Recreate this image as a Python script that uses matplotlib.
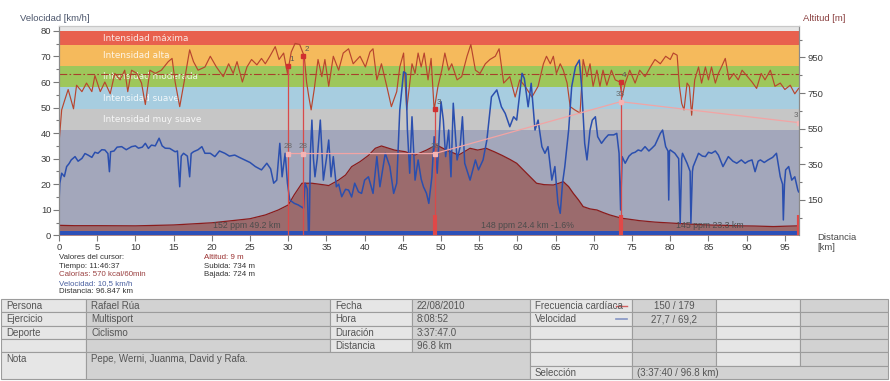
import matplotlib
matplotlib.use("Agg")
import matplotlib.pyplot as plt
import matplotlib.transforms as mtransforms
from matplotlib.patches import Rectangle
from matplotlib.ticker import MultipleLocator, FixedLocator

plt.rcParams['font.family'] = ['Liberation Sans', 'DejaVu Sans']

# ---- values ----
# altitude profile (km, m)
alt_km = [0, 2, 5, 10, 15, 19.1, 20, 23.5, 25, 27, 28.7, 30, 30.8, 31.8, 33.1, 34.5,
          35.3, 36.6, 37.5, 38.3, 39.4, 40.5, 41.4, 42.2, 43.9, 45.3, 46.6, 48.1, 49.4,
          50.7, 52.3, 53.8, 54.8, 55.9, 57.0, 58.0, 59.0, 59.9, 61.2, 62.5, 63.5, 64.7,
          65.5, 66.0, 66.7, 67.3, 68.0, 68.6, 69.5, 70.4, 71.2, 72.1, 73.6, 75.0, 76.0,
          78.0, 80.4, 82.5, 84.8, 87.0, 89.1, 91.0, 93.5, 95.0, 96.8]
alt_m = [8, 6, 6, 5, 10, 20, 22, 38, 45, 66, 94, 122, 180, 244, 244, 236,
         231, 262, 290, 337, 365, 400, 440, 453, 430, 421, 402, 430, 459,
         430, 402, 440, 430, 440, 420, 400, 378, 356, 300, 244, 236, 234,
         245, 253, 225, 188, 150, 113, 100, 94, 80, 66, 48, 40, 34,
         26, 20, 15, 10, 8, 5, 4, 1, 3, 5]

# speed (km, km/h)
speed_km = [0.0, 0.1, 0.35, 0.7, 1.0, 1.3, 1.6, 2.1, 2.5, 3.0, 3.4, 3.8, 4.3, 4.7, 5.1,
            5.6, 6.0, 6.4, 6.6, 6.75, 7.2, 7.6, 8.2, 8.8, 9.5, 10.0, 10.4, 10.9, 11.3,
            11.7, 12.1, 12.6, 13.1, 13.5, 13.9, 14.5, 15.2, 15.5, 15.8, 16.0, 16.3, 16.8,
            17.1, 17.3, 17.6, 18.2, 18.7, 19.1, 19.8, 20.4, 21.0, 21.7, 22.3, 23.0, 23.6,
            24.3, 25.0, 25.7, 26.5, 27.2, 27.7, 28.1, 28.5, 28.9, 29.2, 29.6, 29.9, 30.2,
            30.8, 31.3, 32.0, 32.2, 32.5, 32.65, 32.75, 32.9, 33.1, 33.3, 33.5, 33.8, 34.2,
            34.6, 35.0, 35.3, 35.6, 35.9, 36.3, 36.6, 37.0, 37.5, 37.9, 38.3, 38.7, 39.2,
            39.6, 40.0, 40.5, 41.1, 41.6, 42.0, 42.7, 43.3, 43.8, 44.2, 44.6, 45.1, 45.4,
            45.6, 45.9, 46.2, 46.6, 47.0, 47.4, 47.7, 48.1, 48.4, 48.8, 49.1, 49.5, 50.0,
            50.3, 50.6, 51.0, 51.3, 51.6, 52.1, 52.5, 52.8, 53.1, 53.8, 54.5, 54.9, 55.5,
            56.0, 56.6, 57.3, 57.9, 58.4, 59.0, 59.5, 59.9, 60.6, 60.9, 61.4, 61.8, 62.3,
            62.7, 63.2, 63.6, 64.0, 64.5, 64.9, 65.3, 65.6, 65.9, 66.2, 66.7, 67.1, 67.6,
            68.1, 68.4, 68.8, 69.1, 69.5, 69.8, 70.2, 70.5, 71.0, 71.5, 71.9, 72.6, 73.0,
            73.3, 73.5, 73.7, 74.1, 74.6, 75.0, 75.4, 75.8, 76.2, 76.7, 77.2, 77.6, 78.0,
            78.7, 79.0, 79.4, 79.7, 79.8, 79.9, 80.0, 80.6, 81.1, 81.3, 81.5, 81.6, 82.2,
            82.6, 82.7, 82.9, 83.0, 83.7, 84.2, 84.6, 85.0, 85.4, 85.9, 86.3, 86.9, 87.6,
            88.2, 88.7, 89.3, 89.8, 90.2, 90.7, 91.1, 91.5, 91.8, 92.3, 92.8, 93.4, 93.9,
            94.4, 94.7, 94.8, 94.95, 95.1, 95.5, 95.9, 96.3, 96.7, 96.8]
speed_kmh = [12.5, 20.3, 24.3, 23, 26.9, 28, 29.5, 30.8, 29, 30.1, 32, 31.4, 30.5, 32.5, 32.1,
             33.5, 33.4, 32, 24.9, 32.7, 33, 34.5, 34.7, 33.5, 34.7, 35, 34.1, 34.5, 36.0,
             34, 35.3, 35, 38.0, 35, 34.1, 34, 32.7, 33, 19.0, 31, 32.1, 31,
             22.9, 32, 32.7, 33.5, 34.7, 32.1, 32.1, 30.8, 33, 32.1, 31, 31.4, 30.5,
             29.5, 28.5, 26.9, 25.6, 28.2, 26, 20.4, 21.6, 36.0, 22.9, 32.1, 20.4, 13.8,
             12.5, 11.9, 10.6, 20.4, 18, 0.5, 1, 32.1, 45.1, 30, 22.9, 30, 45.1,
             21.6, 30, 37.3, 22.9, 30.8, 19.0, 20, 15.1, 18, 17.7, 15, 20.4, 17,
             16.4, 21.6, 22.9, 16.4, 30.8, 19.0, 32.1, 26.9, 16.4, 20.4, 49.0, 64.0, 63.4,
             41.2, 24.3, 46.4, 21.6, 29.5, 22, 19.0, 16.4, 12.5, 22.9, 38.6, 24.3, 52.3,
             45.1, 30.8, 41.2, 22.9, 51.7, 29.5, 34.7, 46.4, 28.2, 21.6, 29.5, 25.6, 29.5,
             37.3, 54.2, 56.9, 50.3, 47.7, 42.5, 46.4, 45.1, 63.4, 61.4, 50.3, 59.5, 41.2,
             45.1, 34.7, 32.1, 34.7, 21.6, 26.9, 12.5, 8.6, 20.4, 26.9, 41.2, 58.2, 66.0,
             68.6, 58.2, 36.0, 29.5, 41.2, 45.1, 46.4, 38.6, 36.0, 38, 39.3, 39.3, 39.9,
             32.1, 9.9, 30.8, 28.2, 31, 32.1, 32.5, 33.4, 33, 34.7, 33, 34.1, 35.3,
             39.9, 41.2, 34.7, 33, 13.8, 33, 33.4, 32.1, 30, 4.7, 30, 32.1, 28.2,
             25, 4.7, 25, 26.9, 32.1, 31, 30.8, 32.5, 32.1, 33, 31.4, 26.9, 30.8,
             29, 28.2, 29.5, 28.2, 29, 29.5, 24.9, 29, 29.5, 28.5, 29.5, 30.5, 32.1,
             22.9, 20, 6.0, 20, 25.6, 26.9, 21.6, 22.9, 17.7, 17]

# heart rate (km, bpm)
hr_km = [0.0, 0.35, 0.7, 1.2, 1.9, 2.3, 3.0, 3.6, 4.3, 4.7, 5.4, 6.0, 6.7, 7.3, 8.0, 8.6,
         9.0, 9.5, 10.2, 10.8, 11.3, 11.9, 12.6, 13.4, 14.3, 14.8, 15.2, 15.8, 16.5, 17.1,
         17.6, 18.2, 19.1, 19.8, 20.6, 21.5, 22.2, 22.8, 23.3, 24.0, 24.6, 25.2, 25.9,
         26.5, 27.0, 27.6, 28.3, 28.8, 29.4, 29.9, 30.4, 30.9, 31.5, 32.1, 32.4, 32.7,
         33.0, 33.4, 33.9, 34.4, 34.8, 35.3, 35.9, 36.6, 37.2, 37.9, 38.5, 39.4, 40.1,
         40.7, 41.1, 41.6, 42.2, 42.9, 43.5, 44.2, 44.6, 45.1, 45.5, 46.2, 46.6, 47.0,
         47.4, 47.8, 48.3, 48.7, 49.1, 49.6, 50.1, 50.5, 51.0, 51.4, 52.1, 52.7, 53.4,
         53.9, 54.5, 55.1, 55.8, 56.4, 57.1, 57.6, 58.2, 59.0, 59.7, 60.3, 61.0, 61.9,
         62.7, 63.4, 63.8, 64.3, 64.7, 65.1, 65.6, 66.0, 66.5, 66.9, 67.5, 68.2, 68.6,
         69.1, 69.5, 69.9, 70.4, 70.8, 71.2, 71.7, 72.3, 72.8, 73.4, 73.7, 74.1, 74.7,
         75.4, 76.0, 76.7, 77.4, 78.0, 78.7, 79.4, 80.0, 80.4, 80.9, 81.2, 81.5, 81.8,
         82.2, 82.5, 82.8, 83.2, 83.7, 84.1, 84.6, 85.0, 85.4, 85.9, 86.3, 86.7, 87.2,
         87.7, 88.3, 88.9, 89.4, 90.0, 90.7, 91.3, 91.9, 92.4, 93.1, 93.7, 94.4, 95.0,
         95.7, 96.3, 96.8]
hr_bpm = [86, 117, 125, 136, 118, 140, 134, 142, 134, 149, 134, 143, 132, 151, 145, 154,
          134, 154, 151, 142, 122, 154, 151, 154, 162, 165, 143, 120, 148, 173,
          162, 154, 157, 167, 157, 148, 160, 151, 162, 143, 157, 164, 159,
          165, 160, 167, 176, 164, 170, 151, 171, 179, 178, 167, 143, 129,
          117, 136, 164, 148, 164, 139, 167, 154, 170, 174, 160, 167, 157,
          171, 174, 145, 160, 139, 120, 134, 157, 170, 117, 160, 151, 170,
          157, 170, 145, 165, 117, 139, 154, 170, 154, 160, 145, 148, 167,
          178, 154, 151, 160, 164, 167, 174, 142, 148, 129, 145, 139, 129,
          139, 160, 167, 160, 167, 151, 160, 154, 142, 120, 117, 114, 164,
          148, 160, 139, 154, 139, 154, 140, 154, 145, 143, 129, 142, 154,
          142, 154, 148, 157, 164, 160, 167, 164, 170, 168, 139, 123, 117,
          142, 139, 112, 145, 157, 142, 157, 145, 157, 142, 151, 157, 165,
          145, 151, 145, 154, 149, 143, 137, 151, 145, 154, 139, 142, 136,
          140, 132, 137]

hr_avg = 150
zone_edges = [98.5, 118.2, 137.9, 157.6, 177.3, 190.7]
zone_names = ["Intensidad muy suave", "Intensidad suave", "Intensidad moderada",
              "Intensidad alta", "Intensidad máxima"]

# lap markers on the heart-rate curve
mark_km = [30.0, 31.9, 49.2, 73.5]
mark_hr = [158, 167, 118, 143]
mark_ids = ["1", "2", "3", "4"]

# pink lap line
pink_km = [30.0, 31.9, 49.2, 73.5, 96.8]
pink_val = [32, 32, 32, 52.3, 44.1]
pink_lbl = ["28", "28", "28", "33", "3"]

# lap summaries
split_km = [0, 49.2, 73.5, 96.8]
split_txt = ["152 ppm 49.2 km", "148 ppm 24.4 km -1.6%", "145 ppm 23.3 km"]
split_bar_km = [49.2, 73.5, 96.8]

total_km = 96.85
hr_scale = 0.4196      # bpm -> km/h axis units, as drawn in the original
alt_lim = (-48, 1127)

cursor_left = ["Valores del cursor:", "Tiempo: 11:46:37", "Calorías: 570 kcal/60min",
               "Velocidad: 10,5 km/h", "Distancia: 96.847 km"]
cursor_right = ["Altitud: 9 m", "Subida: 734 m", "Bajada: 724 m"]

table_rows = [
    ["Persona", "Rafael Rúa", "Fecha", "22/08/2010", "Frecuencia cardíaca", "150 / 179", "", ""],
    ["Ejercicio", "Multisport", "Hora", "8:08:52", "Velocidad", "27,7 / 69,2", "", ""],
    ["Deporte", "Ciclismo", "Duración", "3:37:47.0", "", "", "", ""],
    ["", "", "Distancia", "96.8 km", "", "", "", ""],
]
note_label = "Nota"
note_text = "Pepe, Werni, Juanma, David y Rafa."
sel_label = "Selección"
sel_text = "(3:37:40 / 96.8 km)"

# ---- figure ----
fig = plt.figure(figsize=(8.9, 3.81), dpi=100)
W, H = 890, 381

ui = fig.add_axes([0, 0, 1, 1], zorder=-1)
ui.set_xlim(0, W)
ui.set_ylim(H, 0)
ui.axis("off")

ax = fig.add_axes([59 / W, (H - 235.3) / H, 740 / W, 209.5 / H])
alt_ax = ax.twinx()
ax.set_xlim(0, total_km)
ax.set_ylim(0, 82)
alt_ax.set_ylim(*alt_lim)
ax.set_facecolor("#e6e6e6")

hr_tr = mtransforms.Affine2D().scale(1, hr_scale) + ax.transData
alt_tr = alt_ax.transData
xs = [0, total_km]

# heart-rate zones
ax.fill_between(xs, 0, zone_edges[0], transform=hr_tr, color="#a3a7bb", lw=0, zorder=0)
zone_colors = ["#c6c6c6", "#a7cde0", "#9ec75b", "#f5ba5c", "#e8604e"]
for lo, hi, c, name in zip(zone_edges[:-1], zone_edges[1:], zone_colors, zone_names):
    ax.fill_between(xs, lo, hi, transform=hr_tr, color=c, lw=0, zorder=0)
    ax.text(5.8, (lo + hi) / 2, name, transform=hr_tr, color="white", alpha=0.85,
            fontsize=6.4, family="DejaVu Sans", va="center", ha="left", zorder=1)

# altitude
ax.fill_between(alt_km, alt_m, alt_lim[0], transform=alt_tr, color="#9b6b6d", lw=0, zorder=2)
ax.plot(alt_km, alt_m, transform=alt_tr, color="#8b1c1c", lw=0.9, zorder=2.1)

# heart rate and its average
ax.plot(xs, [hr_avg, hr_avg], transform=hr_tr, color="#a8402c", lw=0.8,
        ls=(0, (7, 2, 1.5, 2)), zorder=2.5)
ax.plot(hr_km, hr_bpm, transform=hr_tr, color="#b8452e", lw=0.85, zorder=3)

# speed
ax.plot(speed_km, speed_kmh, color="#2b4fae", lw=1.1, zorder=4)

# selection bar at the bottom
ax.fill_between(xs, 0, 1.6, color="#2c50b8", lw=0, zorder=5)

# lap markers
for km, hr, lab in zip(mark_km, mark_hr, mark_ids):
    ax.plot([km, km], [0, hr], transform=hr_tr, color="#d84a4a", lw=0.9, zorder=6)
    ax.plot([km], [hr], "s", ms=3.2, color="#d03030", transform=hr_tr, zorder=7)
    ax.annotate(lab, (km, hr), xycoords=hr_tr, xytext=(1, 3.5), textcoords="offset points",
                fontsize=5.8, color="#555555", zorder=7)
ax.plot(pink_km, pink_val, color="#f2a4a4", lw=0.9, zorder=6)
ax.plot(pink_km, pink_val, "s", ms=3, color="#f4b4b4", zorder=6.5)
for km, v, lab in zip(pink_km, pink_val, pink_lbl):
    ax.annotate(lab, (km, v), xytext=(0, 4), textcoords="offset points",
                ha="right" if km > 90 else "center",
                fontsize=5.8, color="#666666", zorder=7)
ax.vlines(split_bar_km, 0, 8, color="#e04848", lw=3, zorder=6)
for a, b, t in zip(split_km[:-1], split_km[1:], split_txt):
    ax.text((a + b) / 2, 3.7, t, ha="center", va="center", fontsize=6.3, color="#4d4d4d", zorder=6)

# axes styling
ax.xaxis.set_major_locator(MultipleLocator(5))
ax.yaxis.set_minor_locator(MultipleLocator(5))
ax.set_yticks(range(0, 81, 10))
ax.tick_params(axis="both", which="major", labelsize=6.8, labelcolor="#3c3c3c",
               color="#7a7a7a", length=4, width=0.8, pad=1.5)
ax.tick_params(axis="y", which="minor", color="#7a7a7a", length=2.5, width=0.8)
alt_ax.yaxis.set_major_locator(FixedLocator([150, 350, 550, 750, 950]))
alt_ax.yaxis.set_minor_locator(FixedLocator([50, 250, 450, 650, 850, 1050]))
alt_ax.tick_params(axis="y", which="major", labelsize=6.8, labelcolor="#3c3c3c",
                   color="#7a7a7a", length=4, width=0.8, pad=2)
alt_ax.tick_params(axis="y", which="minor", color="#7a7a7a", length=2.5, width=0.8)
for a in (ax, alt_ax):
    for s in a.spines.values():
        s.set_color("#8a8a8a")
        s.set_linewidth(0.8)
    a.spines["top"].set_color("#c8c8c8")
    a.spines["bottom"].set_visible(False)

# labels around the chart
ui.text(20, 18.5, "Velocidad [km/h]", fontsize=6.8, color="#4b556b", va="center")
ui.text(803, 18.5, "Altitud [m]", fontsize=6.8, color="#8a4040", va="center")
ui.text(817, 237.5, "Distancia", fontsize=6.8, color="#4a4a4a", va="center")
ui.text(817, 247, "[km]", fontsize=6.8, color="#4a4a4a", va="center")

left_colors = ["#333333", "#333333", "#9a4040", "#4a60a0", "#333333"]
for i, (t, c) in enumerate(zip(cursor_left, left_colors)):
    ui.text(59, 259 + i * 8.6, t, fontsize=5.7, color=c, va="baseline")
right_colors = ["#9a3030", "#333333", "#333333"]
for i, (t, c) in enumerate(zip(cursor_right, right_colors)):
    ui.text(204, 259 + i * 8.6, t, fontsize=5.7, color=c, va="baseline")

# info table
col_x = [1, 86, 330, 412, 530, 632, 716, 800, 888]
row_y = [299, 312.3, 325.7, 339, 352.3, 365.7, 379]
light, dark, edge = "#e6e6e6", "#d2d2d2", "#9c9c9c"


def cell(c0, c1, r0, r1, text="", ha="left"):
    x0, x1, y0, y1 = col_x[c0], col_x[c1], row_y[r0], row_y[r1]
    ui.add_patch(Rectangle((x0, y0), x1 - x0, y1 - y0, facecolor=light if c0 % 2 == 0 else dark,
                           edgecolor=edge, lw=0.8))
    if text:
        tx = (x0 + x1) / 2 if ha == "center" else x0 + 5
        ui.text(tx, row_y[r0 + 1] - 3.5, text, fontsize=7.0, color="#555555",
                ha=ha, va="baseline")


for r, row in enumerate(table_rows):
    for c, t in enumerate(row):
        cell(c, c + 1, r, r + 1, t, "center" if c == 5 else "left")
cell(0, 1, 4, 6, note_label)
cell(1, 4, 4, 6, note_text)
for c in range(4, 8):
    cell(c, c + 1, 4, 5)
cell(4, 5, 5, 6, sel_label)
cell(5, 8, 5, 6, sel_text)

# little legend dashes in the table
ui.plot([616, 627], [(row_y[0] + row_y[1]) / 2] * 2, color="#d06060", lw=1)
ui.plot([616, 627], [(row_y[1] + row_y[2]) / 2] * 2, color="#8595c5", lw=1.2)

fig.savefig("out.png", dpi=100)
